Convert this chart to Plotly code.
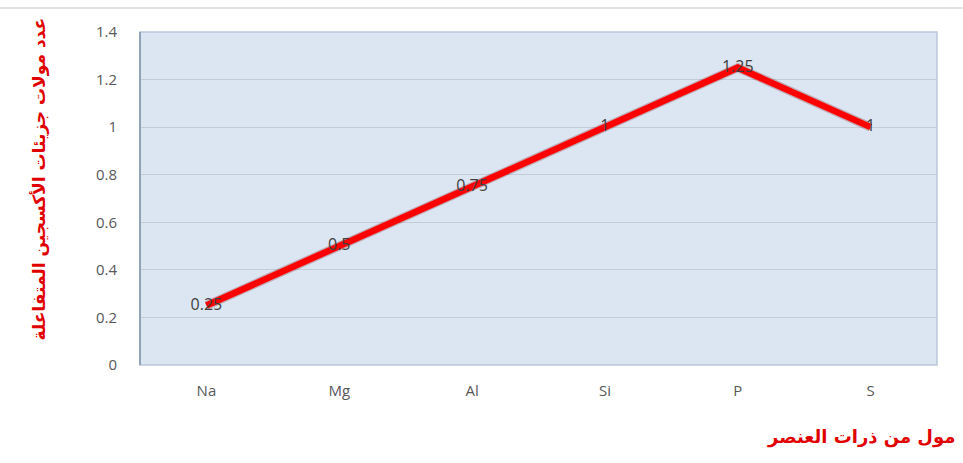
import plotly.graph_objects as go

elements = ["Na", "Mg", "Al", "Si", "P", "S"]
oxygen_moles = [0.25, 0.5, 0.75, 1, 1.25, 1]
label_text = ["0.25", "0.5", "0.75", "1", "1.25", "1"]
y_ticks = [0, 0.2, 0.4, 0.6, 0.8, 1, 1.2, 1.4]
y_tick_text = ["0", "0.2", "0.4", "0.6", "0.8", "1", "1.2", "1.4"]
y_title = "عدد مولات جزيئات الأكسجين المتفاعلة"
x_title = "مول من ذرات العنصر"

fig = go.Figure()
# soft shadow
fig.add_trace(go.Scatter(
    x=elements, y=oxygen_moles, mode="lines",
    line=dict(color="rgba(120,0,0,0.25)", width=9),
    hoverinfo="skip", showlegend=False,
))
fig.add_trace(go.Scatter(
    x=elements, y=oxygen_moles, mode="lines+text",
    line=dict(color="#ff0000", width=6.5),
    text=label_text, textposition="middle center",
    textfont=dict(family="Open Sans, Liberation Sans", size=16, color="#404040"),
    showlegend=False,
))

fig.update_layout(
    width=963, height=463,
    margin=dict(l=140, r=26, t=32, b=98),
    paper_bgcolor="white",
    plot_bgcolor="#dce6f2",
    font=dict(family="Open Sans, Liberation Sans", size=15, color="#595959"),
    xaxis=dict(
        showgrid=False, zeroline=False, showline=False,
        tickfont=dict(size=15, color="#595959"),
        ticklabelstandoff=15,
        range=[-0.5, 5.5],
    ),
    yaxis=dict(
        range=[0, 1.4], tickvals=y_ticks, ticktext=y_tick_text,
        showgrid=True, gridcolor="#c3ccd6", gridwidth=1,
        zeroline=False, showline=False,
        tickfont=dict(size=15, color="#595959"),
        ticklabelstandoff=22,
    ),
    shapes=[
        dict(type="rect", xref="paper", yref="paper", x0=0, x1=1, y0=0, y1=1,
             line=dict(color="#b8c8da", width=1.5), layer="above"),
        dict(type="line", xref="paper", yref="paper", x0=0, x1=0, y0=0, y1=1,
             line=dict(color="#7f93ab", width=1.5), layer="above"),
        dict(type="line", xref="paper", yref="paper", x0=-140/797, x1=1+26/797,
             y0=1+24/333, y1=1+24/333, line=dict(color="#d9d9d9", width=1.5)),
    ],
    annotations=[
        dict(text=y_title, xref="paper", yref="paper",
             x=-100/797, y=0.56, textangle=-90, showarrow=False,
             xanchor="center", yanchor="middle",
             font=dict(family="DejaVu Sans, Noto Sans", size=17, color="#e00000", weight="bold")),
        dict(text=x_title, xref="paper", yref="paper",
             x=1+20/797, y=-72/333, showarrow=False,
             xanchor="right", yanchor="middle",
             font=dict(family="DejaVu Sans, Noto Sans", size=18, color="#e00000", weight="bold")),
    ],
)

fig.write_html("out.html")
